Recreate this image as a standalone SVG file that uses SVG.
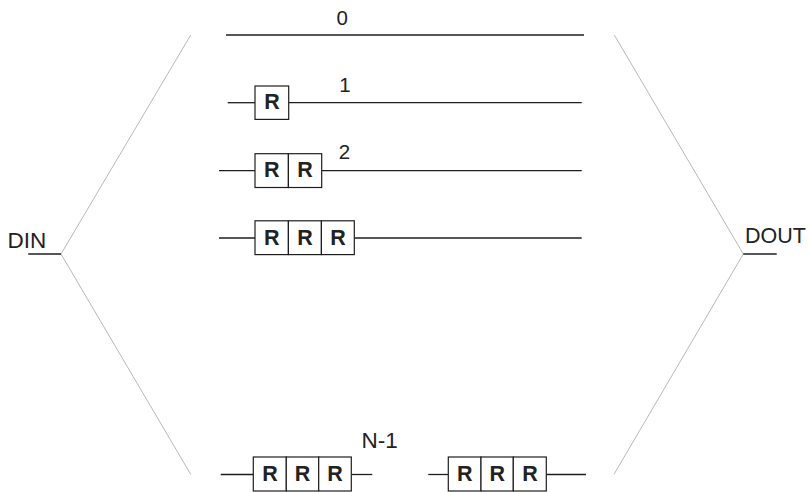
<svg xmlns="http://www.w3.org/2000/svg" width="809" height="492" viewBox="0 0 809 492">
  <style>
    .wire { stroke: #1e1e1e; stroke-width: 1.3; fill: none; }
    .fan { stroke: #b0b0b0; stroke-width: 0.9; fill: none; }
    .reg rect { fill: #ffffff; stroke: #1e1e1e; stroke-width: 1.2; }
    .reg text { font-family: "Liberation Sans", Arial, sans-serif; font-weight: bold; font-size: 21.5px; fill: #222222; text-anchor: middle; }
    .lbl { font-family: "Liberation Sans", Arial, sans-serif; font-size: 22px; fill: #222222; }
    .num { font-family: "Liberation Sans", Arial, sans-serif; font-size: 20.5px; fill: #222222; text-anchor: middle; }
  </style>
  <rect width="809" height="492" fill="#ffffff"/>

  <g id="connectors">
    <polyline class="fan" points="190.7,35 61,254 190.7,474.3"/>
    <polyline class="fan" points="614.3,35 743.3,254 614,474.3"/>
    <line class="wire" x1="28.3" y1="254" x2="61" y2="254"/>
    <line class="wire" x1="743.3" y1="254" x2="776.7" y2="254"/>
    <line class="wire" x1="226" y1="35" x2="584" y2="35"/>
    <line class="wire" x1="227.7" y1="102.7" x2="255" y2="102.7"/>
    <line class="wire" x1="288.7" y1="102.7" x2="581.7" y2="102.7"/>
    <line class="wire" x1="219" y1="170.7" x2="255" y2="170.7"/>
    <line class="wire" x1="321.7" y1="170.7" x2="581.7" y2="170.7"/>
    <line class="wire" x1="219" y1="238" x2="255" y2="238"/>
    <line class="wire" x1="354.3" y1="238" x2="581.7" y2="238"/>
    <line class="wire" x1="220.7" y1="474.5" x2="253.3" y2="474.5"/>
    <line class="wire" x1="351.3" y1="474.5" x2="372.3" y2="474.5"/>
    <line class="wire" x1="428.3" y1="474.5" x2="448.3" y2="474.5"/>
    <line class="wire" x1="546.3" y1="474.5" x2="586" y2="474.5"/>
  </g>

  <g id="din"><text class="lbl" x="7.6" y="247.5" style="font-size:22.5px">DIN</text></g>
  <g id="dout"><text class="lbl" x="745" y="242.7" style="font-size:21.5px">DOUT</text></g>

  <g id="label-0"><text class="num" x="342.2" y="25">0</text></g>
  <g id="label-1"><text class="num" x="345" y="91.7">1</text></g>
  <g id="label-2"><text class="num" x="344.5" y="159.4">2</text></g>
  <g id="label-n1"><text class="lbl" x="361.6" y="448.3" style="font-size:22.5px">N-1</text></g>

  <g id="row1" class="reg">
    <rect x="255" y="86" width="33.7" height="33.4"/>
    <text x="272" y="109.4">R</text>
  </g>

  <g id="row2" class="reg">
    <rect x="255" y="153.7" width="33.4" height="33.8"/>
    <rect x="288.4" y="153.7" width="33.3" height="33.8"/>
    <text x="271.8" y="177.3">R</text>
    <text x="305.1" y="177.3">R</text>
  </g>

  <g id="row3" class="reg">
    <rect x="255" y="220.8" width="33.4" height="33.8"/>
    <rect x="288.4" y="220.8" width="33" height="33.8"/>
    <rect x="321.4" y="220.8" width="32.9" height="33.8"/>
    <text x="271.8" y="244.6">R</text>
    <text x="305" y="244.6">R</text>
    <text x="337.9" y="244.6">R</text>
  </g>

  <g id="rowN1a" class="reg">
    <rect x="253.3" y="457" width="33" height="34"/>
    <rect x="286.3" y="457" width="32.4" height="34"/>
    <rect x="318.7" y="457" width="32.6" height="34"/>
    <text x="269.9" y="481.1">R</text>
    <text x="302.6" y="481.1">R</text>
    <text x="335.1" y="481.1">R</text>
  </g>

  <g id="rowN1b" class="reg">
    <rect x="448.3" y="457" width="32.7" height="34"/>
    <rect x="481" y="457" width="32.3" height="34"/>
    <rect x="513.3" y="457" width="33" height="34"/>
    <text x="464.8" y="481.1">R</text>
    <text x="497.3" y="481.1">R</text>
    <text x="529.9" y="481.1">R</text>
  </g>
</svg>
